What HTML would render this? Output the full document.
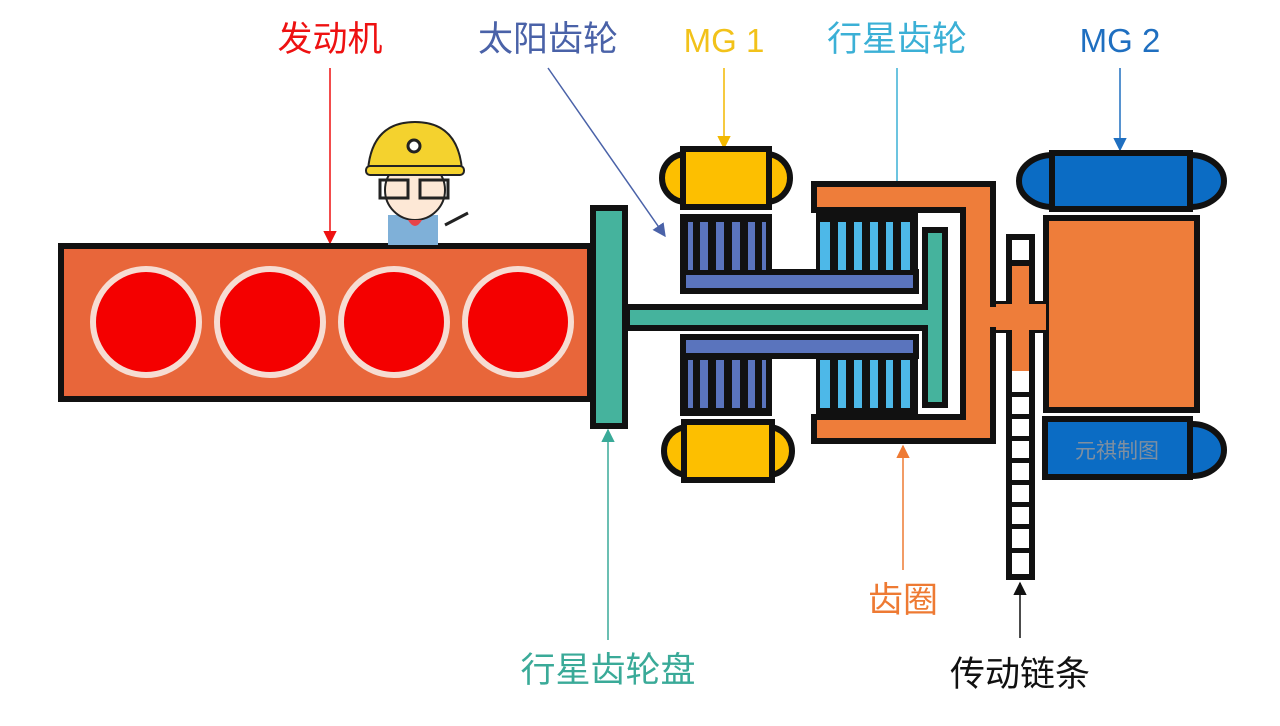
<!DOCTYPE html>
<html><head><meta charset="utf-8"><style>
html,body{margin:0;padding:0;background:#fff;width:1280px;height:726px;overflow:hidden}
svg text{font-family:"Liberation Sans","Noto Sans CJK SC",sans-serif;font-size:35px;text-anchor:middle}
svg text.m{font-size:33px}
</style></head><body>
<svg width="1280" height="726" viewBox="0 0 1280 726" xmlns="http://www.w3.org/2000/svg">
<defs>
<marker id="a" viewBox="0 0 10 10" refX="9" refY="5" markerWidth="9" markerHeight="9" orient="auto"><path d="M0,0L10,5L0,10z" fill="context-stroke"/></marker>
</defs>
<!-- labels -->
<text x="330" y="51" fill="#ee1111">发动机</text>
<text x="548" y="51" fill="#4a62a8">太阳齿轮</text>
<text class="m" x="724" y="52" fill="#f2c21a">MG 1</text>
<text x="897" y="51" fill="#3bb0d6">行星齿轮</text>
<text class="m" x="1120" y="52" fill="#1f6fc0">MG 2</text>
<text x="608" y="682" fill="#3aaa98">行星齿轮盘</text>
<text x="903" y="612" fill="#ee7a33">齿圈</text>
<text x="1020" y="686" fill="#111">传动链条</text>
<!-- arrows -->
<g stroke-width="1.5" fill="none">
<line x1="330" y1="68" x2="330" y2="243" stroke="#ee1111" marker-end="url(#a)"/>
<line x1="548" y1="68" x2="665" y2="236" stroke="#4a62a8" marker-end="url(#a)"/>
<line x1="724" y1="68" x2="724" y2="148" stroke="#f2b800" marker-end="url(#a)"/>
<line x1="897" y1="68" x2="897" y2="216" stroke="#3bb0d6" marker-end="url(#a)"/>
<line x1="1120" y1="68" x2="1120" y2="150" stroke="#1f6fc0" marker-end="url(#a)"/>
<line x1="608" y1="640" x2="608" y2="430" stroke="#3aaa98" marker-end="url(#a)"/>
<line x1="903" y1="570" x2="903" y2="446" stroke="#ee7a33" marker-end="url(#a)"/>
<line x1="1020" y1="638" x2="1020" y2="583" stroke="#111" marker-end="url(#a)"/>
</g>
<!-- engine -->
<rect x="61" y="246" width="529" height="153" fill="#e8663a" stroke="#111" stroke-width="6"/>
<g fill="#f40000" stroke="#f6dcd2" stroke-width="6">
<circle cx="146" cy="322" r="53"/><circle cx="270" cy="322" r="53"/><circle cx="394" cy="322" r="53"/><circle cx="518" cy="322" r="53"/>
</g>
<!-- character -->
<g>
<rect x="388" y="215" width="50" height="30" fill="#7fb0d8"/>
<ellipse cx="415" cy="190" rx="30" ry="30" fill="#fde8d6" stroke="#222" stroke-width="2"/>
<path d="M368 170 Q372 122 415 122 Q458 122 462 170 Z" fill="#f4d22e" stroke="#222" stroke-width="2"/>
<rect x="366" y="166" width="98" height="9" rx="4" fill="#f4d22e" stroke="#222" stroke-width="2"/>
<circle cx="414" cy="146" r="6" fill="#fff" stroke="#222" stroke-width="3"/>
<rect x="380" y="180" width="28" height="18" fill="none" stroke="#222" stroke-width="3"/>
<rect x="420" y="180" width="28" height="18" fill="none" stroke="#222" stroke-width="3"/>
<path d="M408 220 Q415 232 422 220Z" fill="#e8444a"/>
<path d="M445 225 L468 213" stroke="#222" stroke-width="3"/>
</g>
<!-- carrier -->
<path d="M627 307 H925 V230 H945 V405 H925 V328 H627 Z" fill="#45b39d" stroke="#111" stroke-width="6"/>
<rect x="593" y="208" width="32" height="218" fill="#45b39d" stroke="#111" stroke-width="6"/>
<!-- ring gear -->
<path d="M814 184 H993 V304 H1042 V330 H993 V441 H814 V417 H963 V210 H814 Z" fill="#ee7d3a" stroke="#111" stroke-width="6"/>
<!-- sun gear -->
<g stroke="#111" stroke-width="6">
<rect x="683" y="217" width="86" height="54" fill="#111"/>
<rect x="683" y="272" width="233" height="19" fill="#5a74bd"/>
<rect x="683" y="337" width="233" height="19" fill="#5a74bd"/>
<rect x="683" y="357" width="86" height="56" fill="#111"/>
<rect x="819" y="213" width="96" height="58" fill="#111"/>
<rect x="819" y="357" width="96" height="56" fill="#111"/>
</g>
<g fill="#5a74bd">
<rect x="688" y="222" width="5" height="48"/><rect x="700" y="222" width="8" height="48"/><rect x="716" y="222" width="8" height="48"/><rect x="732" y="222" width="8" height="48"/><rect x="748" y="222" width="7" height="48"/><rect x="762" y="222" width="4" height="48"/>
<rect x="688" y="360" width="5" height="48"/><rect x="700" y="360" width="8" height="48"/><rect x="716" y="360" width="8" height="48"/><rect x="732" y="360" width="8" height="48"/><rect x="748" y="360" width="7" height="48"/><rect x="762" y="360" width="4" height="48"/>
</g>
<g fill="#4db8e8">
<rect x="820" y="222" width="10" height="48"/><rect x="838" y="222" width="8" height="48"/><rect x="854" y="222" width="8" height="48"/><rect x="870" y="222" width="8" height="48"/><rect x="886" y="222" width="7" height="48"/><rect x="901" y="222" width="9" height="48"/>
<rect x="820" y="360" width="10" height="48"/><rect x="838" y="360" width="8" height="48"/><rect x="854" y="360" width="8" height="48"/><rect x="870" y="360" width="8" height="48"/><rect x="886" y="360" width="7" height="48"/><rect x="901" y="360" width="9" height="48"/>
</g>
<!-- MG1 -->
<g fill="#fdbf00" stroke="#111" stroke-width="6">
<circle cx="686" cy="178" r="24"/><circle cx="766" cy="178" r="24"/>
<rect x="683" y="149" width="86" height="58"/>
<circle cx="688" cy="451" r="24"/><circle cx="768" cy="451" r="24"/>
<rect x="684" y="422" width="88" height="58"/>
</g>
<!-- MG2 -->
<g fill="#0b6cc4" stroke="#111" stroke-width="6">
<ellipse cx="1053" cy="181" rx="34" ry="26"/><ellipse cx="1190" cy="181" rx="34" ry="26"/>
<rect x="1052" y="153" width="138" height="56"/>
<ellipse cx="1192" cy="450" rx="32" ry="26"/>
<rect x="1045" y="419" width="145" height="58"/>
</g>
<text x="1117" y="458" fill="#7f8fa0" style="font-size:21px">元祺制图</text>
<rect x="1046" y="218" width="151" height="192" fill="#ee7d3a" stroke="#111" stroke-width="6"/>
<!-- chain -->
<rect x="1009" y="237" width="23" height="340" fill="#fff" stroke="#111" stroke-width="6"/>
<rect x="1012" y="265" width="17" height="106" fill="#ee7d3a"/>
<rect x="996" y="304" width="50" height="26" fill="#ee7d3a"/>
<g fill="#111">
<rect x="1009" y="392" width="23" height="5"/><rect x="1009" y="414" width="23" height="5"/><rect x="1009" y="436" width="23" height="5"/><rect x="1009" y="458" width="23" height="5"/><rect x="1009" y="480" width="23" height="5"/><rect x="1009" y="502" width="23" height="5"/><rect x="1009" y="524" width="23" height="5"/><rect x="1009" y="548" width="23" height="5"/>
<rect x="1009" y="260" width="23" height="6"/>
</g>
</svg>
</body></html>
